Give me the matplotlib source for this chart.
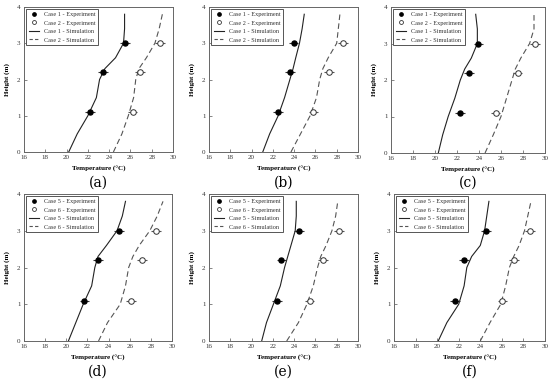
import matplotlib
matplotlib.use("Agg")
import matplotlib.pyplot as plt
from matplotlib.lines import Line2D

plt.rcParams['font.family'] = ['Liberation Serif', 'DejaVu Serif']

# ---------------- data ----------------
exp_heights = [1.1, 2.2, 3.0]
sim_heights = [0.0, 0.5, 1.0, 1.5, 2.0, 2.3, 2.6, 3.0, 3.4, 3.8]
err = 0.45

panel_tags = ["(a)", "(b)", "(c)", "(d)", "(e)", "(f)"]
legend_cases = [("Case 1", "Case 2"), ("Case 1", "Case 2"), ("Case 1", "Case 2"),
                ("Case 5", "Case 6"), ("Case 5", "Case 6"), ("Case 5", "Case 6")]

exp_a = [22.2, 23.4, 25.5]
exp_b = [22.5, 23.6, 23.95]
exp_c = [22.3, 23.1, 23.95]
exp_d = [21.7, 23.0, 25.0]
exp_e = [22.4, 22.8, 24.45]
exp_f = [21.65, 22.5, 24.5]

exp2_a = [26.2, 26.9, 28.8]
exp2_b = [25.8, 27.3, 28.6]
exp2_c = [25.5, 27.5, 29.1]
exp2_d = [26.1, 27.15, 28.5]
exp2_e = [25.45, 26.7, 28.2]
exp2_f = [26.05, 27.1, 28.6]

sim_a = [20.2, 21.0, 22.0, 22.8, 23.1, 23.6, 24.6, 25.35, 25.45, 25.45]
sim_b = [21.05, 21.7, 22.5, 23.1, 23.6, 23.9, 24.15, 24.5, 24.75, 24.95]
sim_c = [20.3, 20.7, 21.2, 21.8, 22.3, 22.7, 23.3, 23.85, 23.85, 23.7]
sim_d = [20.2, 20.9, 21.6, 22.4, 22.7, 23.0, 23.8, 24.8, 25.3, 25.6]
sim_e = [20.95, 21.4, 22.05, 22.7, 23.1, 23.4, 23.7, 24.1, 24.2, 24.2]
sim_f = [20.1, 20.9, 22.0, 22.5, 22.75, 23.2, 24.0, 24.4, 24.6, 24.8]

sim2_a = [24.4, 25.2, 25.8, 26.3, 26.5, 26.8, 27.5, 28.3, 28.7, 29.0]
sim2_b = [23.7, 24.6, 25.5, 26.1, 26.4, 26.7, 27.2, 28.0, 28.15, 28.3]
sim2_c = [24.55, 25.3, 26.0, 26.5, 27.0, 27.3, 27.8, 28.6, 29.0, 29.0]
sim2_d = [23.05, 23.9, 25.1, 25.6, 25.9, 26.3, 26.9, 27.9, 28.6, 29.15]
sim2_e = [23.3, 24.4, 25.2, 25.8, 26.2, 26.5, 27.0, 27.55, 27.9, 28.1]
sim2_f = [24.0, 24.9, 25.9, 26.35, 26.7, 27.1, 27.6, 28.1, 28.4, 28.7]

exp1 = [exp_a, exp_b, exp_c, exp_d, exp_e, exp_f]
exp2 = [exp2_a, exp2_b, exp2_c, exp2_d, exp2_e, exp2_f]
sim1 = [sim_a, sim_b, sim_c, sim_d, sim_e, sim_f]
sim2 = [sim2_a, sim2_b, sim2_c, sim2_d, sim2_e, sim2_f]

x_ticks = [16, 18, 20, 22, 24, 26, 28, 30]
y_ticks = [0, 1, 2, 3, 4]

# ---------------- layout ----------------
W, H = 550, 382
fig = plt.figure(figsize=(W / 100, H / 100), dpi=100)
boxes = [(24, 7, 149, 145), (209, 7, 149, 145), (391, 7, 154, 146),
         (24, 194, 148, 147), (209, 194, 149, 147), (394, 194, 151, 147)]
label_y = [183, 183, 183, 372, 372, 372]

for i in range(6):
    l, t, w, h = boxes[i]
    ax = fig.add_axes([l / W, 1 - (t + h) / H, w / W, h / H])
    ax.plot(sim1[i], sim_heights, color='#222222', lw=0.8)
    ax.plot(sim2[i], sim_heights, color='#555555', lw=0.8, ls=(0, (5, 3)))
    ax.errorbar(exp1[i], exp_heights, xerr=err, fmt='o', ms=3.6, color='#333333',
                mfc='black', mec='black', elinewidth=0.8, capsize=0)
    ax.errorbar(exp2[i], exp_heights, xerr=err, fmt='o', ms=4.0, color='#555555',
                mfc='white', mec='#333333', mew=0.7, elinewidth=0.8, capsize=0)
    ax.set_xlim(16, 30)
    ax.set_ylim(0, 4)
    ax.set_xticks(x_ticks)
    ax.set_yticks(y_ticks)
    ax.tick_params(labelsize=5, length=2, width=0.5, pad=2.5, direction='in',
                   colors='#555555', labelcolor='#333333')
    for s in ax.spines.values():
        s.set_linewidth(0.7)
        s.set_color('#666666')
    ax.set_xlabel("Temperature (°C)", fontsize=5, fontweight='bold', labelpad=4)
    ax.set_ylabel("Height (m)", fontsize=5, fontweight='bold', labelpad=5)
    c1, c2 = legend_cases[i]
    handles = [Line2D([], [], marker='o', ls='none', color='black', ms=2.4),
               Line2D([], [], marker='o', ls='none', color='#333333', mfc='white', ms=2.8, mew=0.6),
               Line2D([], [], color='#222222', lw=0.8),
               Line2D([], [], color='#555555', lw=0.8, ls=(0, (3, 2)))]
    labels = [f"{c1} - Experiment", f"{c2} - Experiment",
              f"{c1} - Simulation", f"{c2} - Simulation"]
    leg = ax.legend(handles, labels, loc='upper left', fontsize=4.5, frameon=True,
                    fancybox=False, edgecolor='#555555', framealpha=1,
                    borderpad=0.45, labelspacing=0.5, handlelength=1.6,
                    borderaxespad=0.3, handletextpad=0.8)
    for txt in leg.get_texts():
        txt.set_color('#333333')
    leg.get_frame().set_linewidth(0.7)
    fig.text((l + w / 2) / W, 1 - label_y[i] / H, panel_tags[i], fontsize=10,
             ha='center', va='center', family=['DejaVu Serif'])

fig.savefig("out.png", dpi=100)
